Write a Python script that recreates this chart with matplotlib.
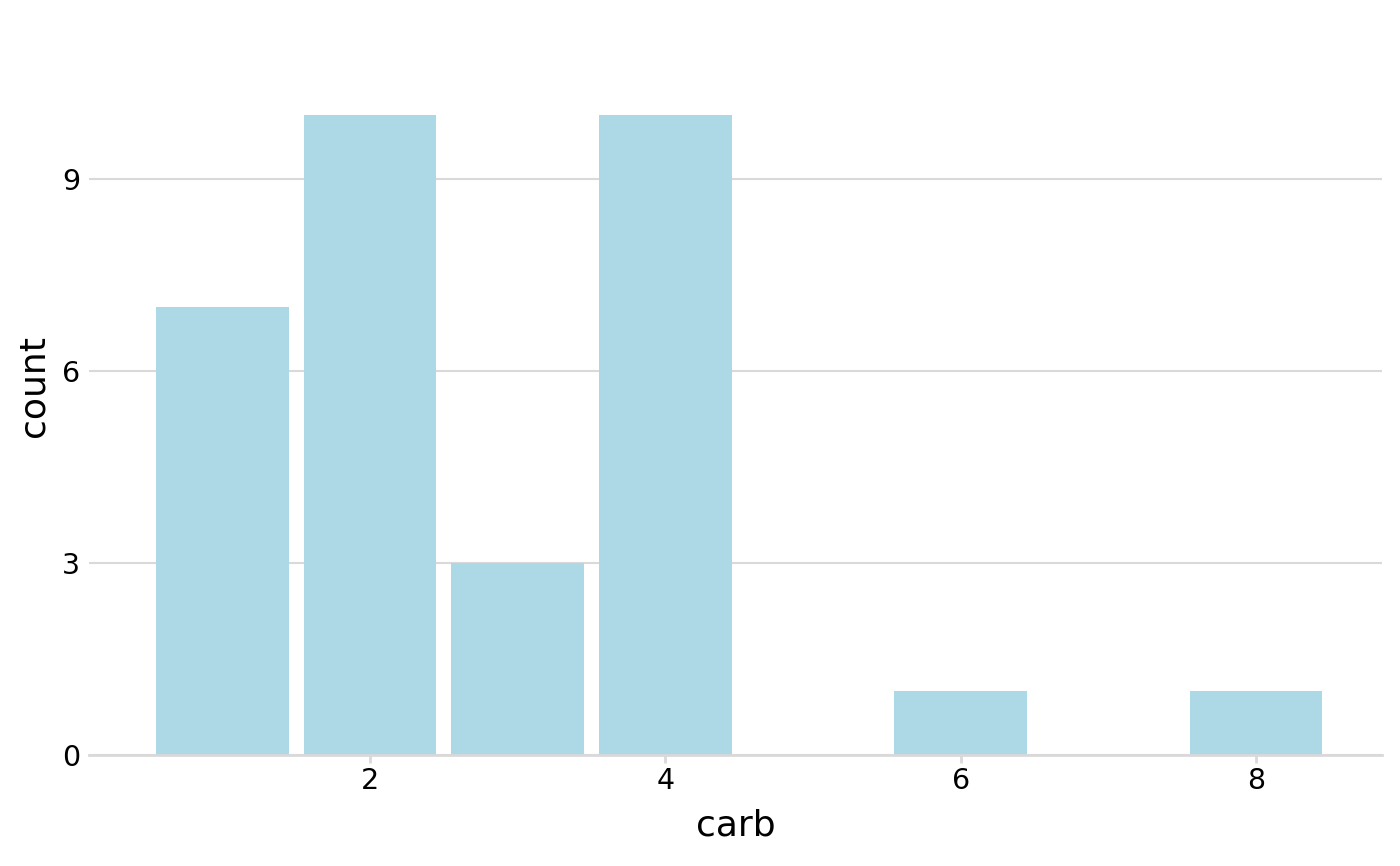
import matplotlib
matplotlib.use('Agg')
import matplotlib.pyplot as plt

carb = [1, 2, 3, 4, 6, 8]
count = [7, 10, 3, 10, 1, 1]
yticks = [0, 3, 6, 9]
xticks = [2, 4, 6, 8]

fig = plt.figure(figsize=(14, 8.66), dpi=100)
ax = fig.add_axes([89/1400, (866-755)/866, (1382-89)/1400, (755-17)/866])

ax.bar(carb, count, width=0.9, color='#add8e6', zorder=2)

ax.set_xlim(0.097, 8.853)
ax.set_ylim(0, 738/64)
ax.set_xticks(xticks)
ax.set_yticks(yticks)
ax.grid(axis='y', color='#d9d9d9', linewidth=1.5, zorder=0)

for s in ['top', 'right', 'left']:
    ax.spines[s].set_visible(False)
ax.spines['bottom'].set_color('#d9d9d9')
ax.spines['bottom'].set_linewidth(2)

ax.tick_params(axis='x', colors='#d9d9d9', length=5.5, width=2, labelcolor='black', labelsize=20.5, pad=3)
ax.tick_params(axis='y', length=0, labelcolor='black', labelsize=20.5, pad=6.5)

ax.set_xlabel('carb', fontsize=26, labelpad=10)
ax.set_ylabel('count', fontsize=26, labelpad=8)

fig.savefig('out.png', dpi=100)
